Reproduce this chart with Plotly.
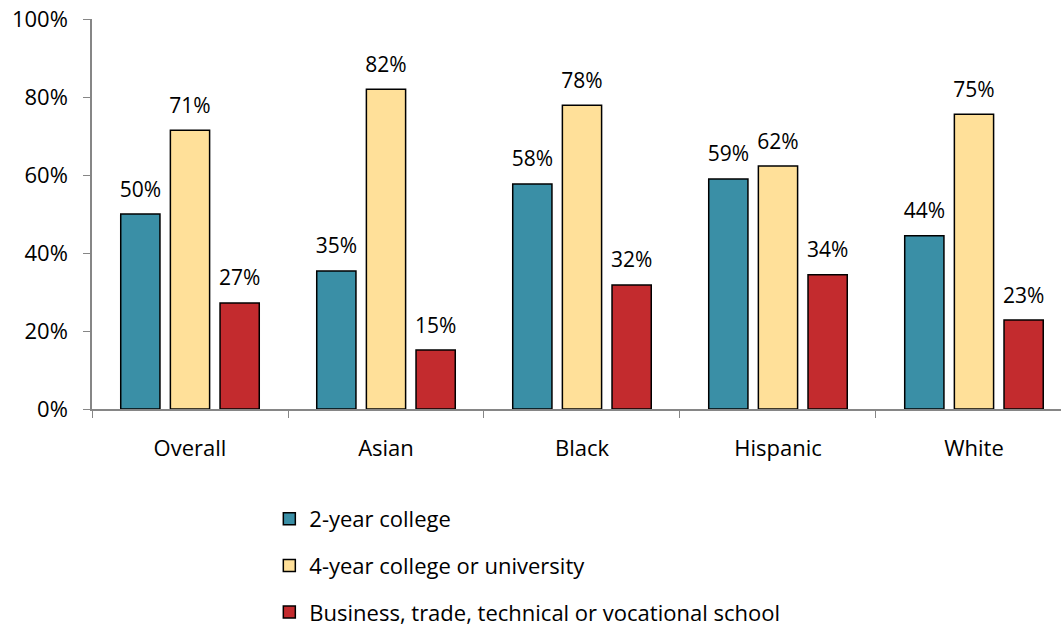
import plotly.graph_objects as go

categories = ["Overall", "Asian", "Black", "Hispanic", "White"]
series_names = ["2-year college", "4-year college or university",
                "Business, trade, technical or vocational school"]
two_year = [50.0, 35.4, 57.7, 59.0, 44.4]
four_year = [71.5, 82.0, 77.9, 62.3, 75.6]
business = [27.2, 15.1, 31.8, 34.4, 22.8]
two_year_labels = ["50%", "35%", "58%", "59%", "44%"]
four_year_labels = ["71%", "82%", "78%", "62%", "75%"]
business_labels = ["27%", "15%", "32%", "34%", "23%"]
colors = ["#3A8FA6", "#FFE099", "#C32B2E"]

FONT = "Open Sans"
BARGAP = 0.24

fig = go.Figure()
for name, vals, col in zip(series_names, [two_year, four_year, business], colors):
    fig.add_trace(go.Bar(
        x=categories, y=vals, name=name, legendgroup=name,
        marker=dict(color=col, line=dict(color="black", width=1.5)),
        hoverinfo="skip",
    ))
# value labels, grouped like the bars
for name, vals, labels in zip(series_names, [two_year, four_year, business],
                              [two_year_labels, four_year_labels, business_labels]):
    fig.add_trace(go.Scatter(
        x=categories, y=vals, mode="markers+text", text=labels,
        textposition="top center",
        textfont=dict(family=FONT, size=21, color="black"),
        marker=dict(size=18, opacity=0), showlegend=False, hoverinfo="skip",
        cliponaxis=False,
    ))

fig.update_layout(
    width=1061, height=629,
    margin=dict(l=92, r=0, t=19, b=220),
    paper_bgcolor="white", plot_bgcolor="white",
    barmode="group", bargap=BARGAP, bargroupgap=0.21,
    scattermode="group", scattergap=BARGAP,
    font=dict(family=FONT, size=22, color="black"),
    showlegend=True,
    legend=dict(orientation="v", x=0.183, xanchor="left",
                yref="container", y=0.2083, yanchor="top",
                traceorder="grouped", tracegroupgap=15,
                font=dict(family=FONT, size=22, color="black"),
                itemwidth=30),
)
fig.update_xaxes(
    range=[-0.5, 4.444], showline=True, linecolor="#868686", linewidth=1.5,
    ticks="outside", tickson="boundaries", ticklen=7, tickcolor="#868686",
    tickfont=dict(family=FONT, size=22, color="black"), showgrid=False,
    ticklabelstandoff=19,
)
fig.update_yaxes(
    range=[0, 100], dtick=20, ticksuffix="%", showline=True, linecolor="#868686",
    linewidth=1.5, ticks="outside", ticklen=7, tickcolor="#868686",
    tickfont=dict(family=FONT, size=22, color="black"), showgrid=False,
    zeroline=False, ticklabelstandoff=11,
)
fig.write_html("out.html", config={"displayModeBar": False},
               post_script="document.body.style.margin='0';document.body.style.overflow='hidden';")
